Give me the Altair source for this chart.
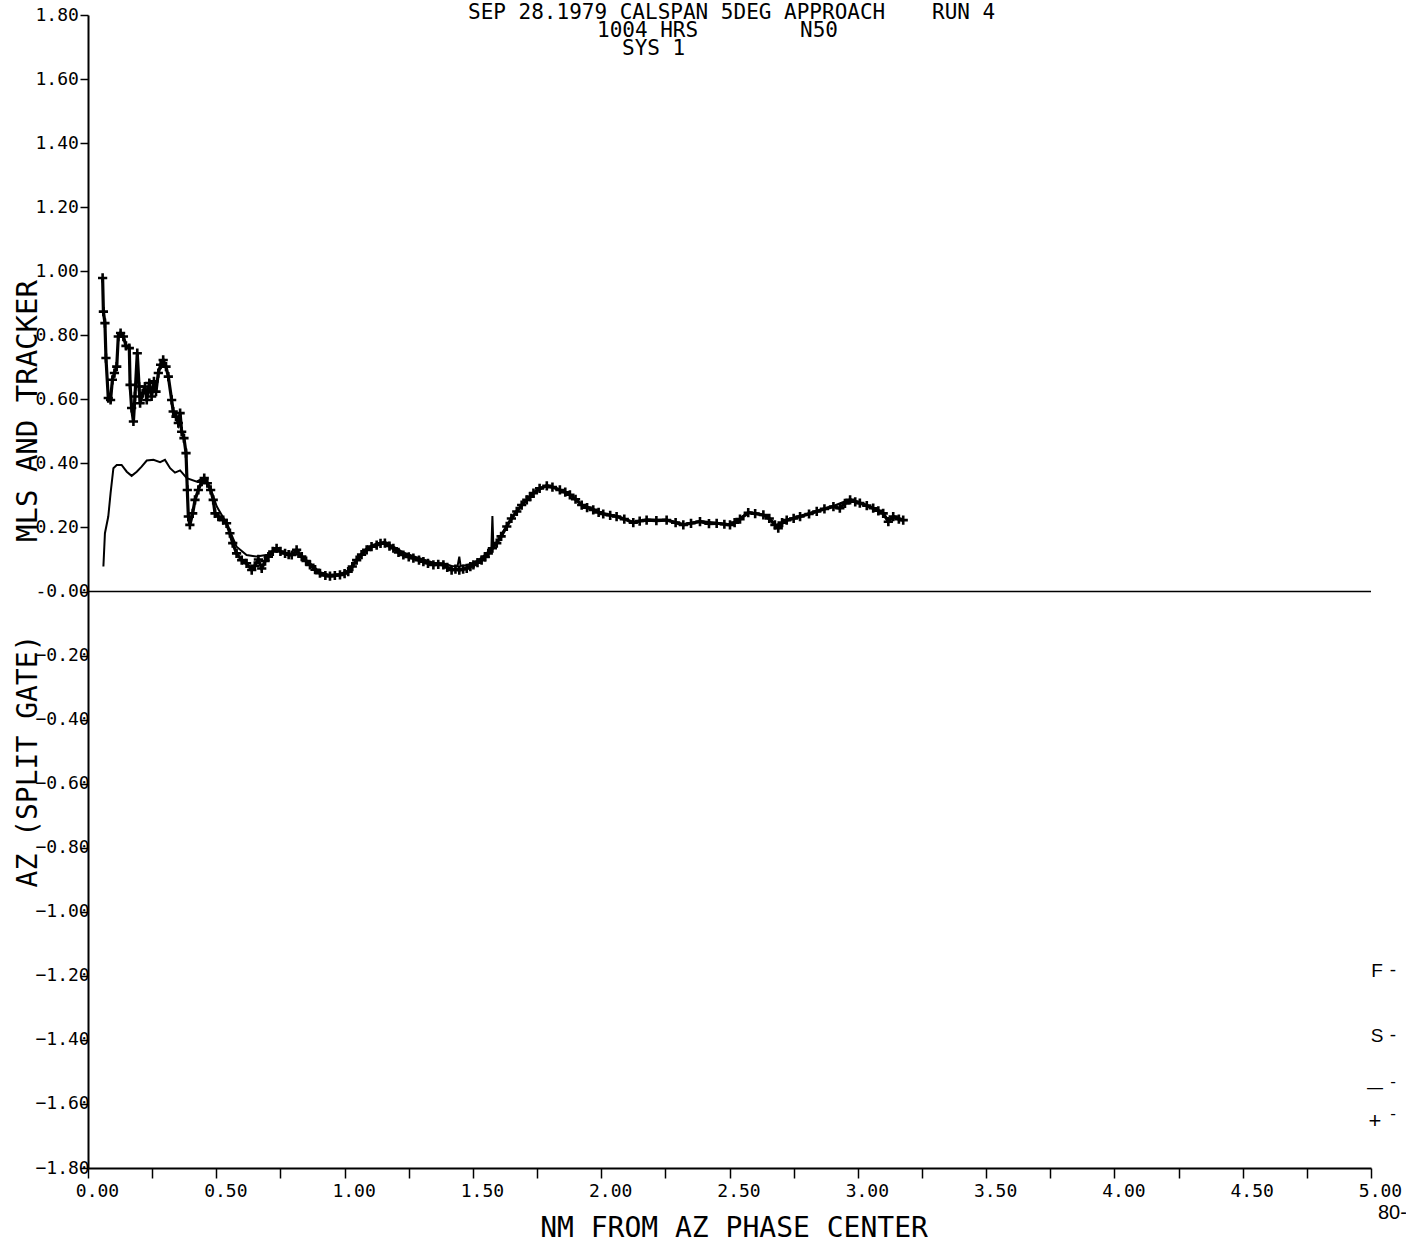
import altair as alt
import pandas as pd

# ---- data ----
MLS_X = [0.057, 0.060, 0.066, 0.070, 0.079, 0.088, 0.095, 0.103, 0.112, 0.118, 0.127, 0.138,
         0.148, 0.161, 0.164, 0.170, 0.177, 0.183, 0.192, 0.199, 0.203, 0.213, 0.222, 0.229,
         0.239, 0.248, 0.257, 0.265, 0.274, 0.283, 0.293, 0.304, 0.313, 0.326, 0.332, 0.343,
         0.352, 0.359, 0.365, 0.374, 0.382, 0.387, 0.391, 0.397, 0.408, 0.417, 0.430, 0.443,
         0.453, 0.465, 0.478, 0.488, 0.495, 0.508, 0.527, 0.540, 0.553, 0.564, 0.579, 0.599,
         0.618, 0.638, 0.650, 0.664, 0.677, 0.690, 0.703, 0.720, 0.735, 0.750, 0.768, 0.782,
         0.794, 0.813, 0.833, 0.850, 0.865, 0.885, 0.904, 0.925, 0.943, 0.962, 0.982, 1.000,
         1.014, 1.030, 1.047, 1.066, 1.086, 1.105, 1.125, 1.140, 1.157, 1.175, 1.190, 1.210,
         1.229, 1.250, 1.268, 1.290, 1.307, 1.325, 1.346, 1.365, 1.385, 1.400, 1.417, 1.432,
         1.447, 1.462, 1.476, 1.490, 1.502, 1.518, 1.534, 1.548, 1.560, 1.576, 1.593, 1.610,
         1.632, 1.650, 1.671, 1.690, 1.710, 1.723, 1.736, 1.760, 1.788, 1.810, 1.839, 1.860,
         1.878, 1.900, 1.924, 1.945, 1.969, 1.990, 2.008, 2.035, 2.060, 2.090, 2.125, 2.150,
         2.177, 2.215, 2.255, 2.290, 2.320, 2.350, 2.385, 2.420, 2.450, 2.480, 2.502, 2.520,
         2.541, 2.573, 2.600, 2.632, 2.655, 2.677, 2.690, 2.705, 2.723, 2.750, 2.775, 2.810,
         2.840, 2.870, 2.905, 2.930, 2.950, 2.970, 2.990, 3.008, 3.035, 3.060, 3.080, 3.099,
         3.119, 3.138, 3.160, 3.177]
MLS_Y = [0.979, 0.874, 0.838, 0.729, 0.604, 0.598, 0.661, 0.682, 0.702, 0.796, 0.807, 0.796,
         0.767, 0.760, 0.645, 0.573, 0.531, 0.609, 0.744, 0.640, 0.588, 0.619, 0.640, 0.598,
         0.651, 0.609, 0.656, 0.624, 0.682, 0.708, 0.723, 0.702, 0.671, 0.598, 0.562, 0.546,
         0.526, 0.557, 0.499, 0.479, 0.432, 0.317, 0.234, 0.208, 0.244, 0.286, 0.317, 0.343,
         0.354, 0.338, 0.317, 0.286, 0.244, 0.234, 0.223, 0.213, 0.182, 0.151, 0.119, 0.098,
         0.088, 0.067, 0.080, 0.100, 0.072, 0.095, 0.109, 0.125, 0.135, 0.125, 0.119, 0.115,
         0.114, 0.130, 0.109, 0.095, 0.083, 0.068, 0.057, 0.050, 0.048, 0.050, 0.052, 0.056,
         0.062, 0.078, 0.098, 0.115, 0.130, 0.140, 0.145, 0.150, 0.151, 0.142, 0.135, 0.122,
         0.114, 0.108, 0.104, 0.098, 0.093, 0.088, 0.083, 0.085, 0.083, 0.075, 0.067, 0.070,
         0.067, 0.070, 0.072, 0.078, 0.083, 0.090, 0.098, 0.108, 0.119, 0.135, 0.151, 0.172,
         0.203, 0.228, 0.250, 0.270, 0.286, 0.296, 0.307, 0.322, 0.330, 0.326, 0.317, 0.310,
         0.302, 0.288, 0.270, 0.262, 0.255, 0.247, 0.242, 0.238, 0.234, 0.226, 0.215, 0.220,
         0.223, 0.221, 0.223, 0.215, 0.208, 0.213, 0.218, 0.212, 0.213, 0.210, 0.208, 0.215,
         0.226, 0.246, 0.243, 0.239, 0.228, 0.208, 0.198, 0.215, 0.223, 0.228, 0.234, 0.242,
         0.250, 0.258, 0.265, 0.260, 0.275, 0.286, 0.280, 0.276, 0.268, 0.260, 0.252, 0.244,
         0.218, 0.234, 0.226, 0.223]

TRK_X = [0.060, 0.066, 0.079, 0.088, 0.099, 0.112, 0.131, 0.151, 0.170, 0.190, 0.209, 0.229,
         0.255, 0.281, 0.300, 0.320, 0.339, 0.359, 0.385, 0.424, 0.449, 0.475, 0.502, 0.540,
         0.579, 0.618, 0.657, 0.700, 0.735, 0.770, 0.800, 0.830, 0.865, 0.904, 0.943, 0.982,
         1.014, 1.047, 1.086, 1.125, 1.157, 1.190, 1.229, 1.268, 1.307, 1.346, 1.385, 1.417,
         1.440, 1.447, 1.452, 1.476, 1.502, 1.534, 1.560, 1.572, 1.576, 1.580, 1.593, 1.632,
         1.671, 1.723, 1.788, 1.839, 1.878, 1.924, 1.969, 2.008, 2.060, 2.125, 2.177, 2.255,
         2.320, 2.385, 2.450, 2.502, 2.541, 2.573, 2.632, 2.677, 2.690, 2.723, 2.775, 2.840,
         2.905, 2.970, 3.008, 3.060, 3.099, 3.119, 3.138, 3.177]
TRK_Y = [0.078, 0.182, 0.234, 0.307, 0.385, 0.395, 0.395, 0.374, 0.361, 0.374, 0.390, 0.409,
         0.411, 0.404, 0.411, 0.385, 0.371, 0.378, 0.354, 0.343, 0.354, 0.327, 0.265, 0.213,
         0.140, 0.114, 0.109, 0.115, 0.130, 0.120, 0.118, 0.112, 0.088, 0.060, 0.052, 0.055,
         0.065, 0.100, 0.135, 0.150, 0.155, 0.140, 0.122, 0.110, 0.100, 0.090, 0.088, 0.080,
         0.078, 0.109, 0.080, 0.082, 0.090, 0.105, 0.125, 0.135, 0.236, 0.140, 0.155, 0.205,
         0.252, 0.300, 0.332, 0.318, 0.304, 0.272, 0.257, 0.244, 0.236, 0.217, 0.225, 0.224,
         0.210, 0.220, 0.215, 0.210, 0.228, 0.248, 0.240, 0.210, 0.200, 0.224, 0.236, 0.252,
         0.267, 0.288, 0.278, 0.262, 0.246, 0.220, 0.236, 0.224]

X_TICKS = [0.0, 0.25, 0.5, 0.75, 1.0, 1.25, 1.5, 1.75, 2.0, 2.25, 2.5, 2.75, 3.0, 3.25,
           3.5, 3.75, 4.0, 4.25, 4.5, 4.75, 5.0]
Y_TICKS = [-1.8, -1.6, -1.4, -1.2, -1.0, -0.8, -0.6, -0.4, -0.2, 0.0, 0.2, 0.4, 0.6, 0.8,
           1.0, 1.2, 1.4, 1.6, 1.8]
ZERO_LINE = [0.0]

TITLE_1A = "SEP 28.1979 CALSPAN 5DEG APPROACH"
TITLE_1B = "RUN 4"
TITLE_2A = "1004 HRS"
TITLE_2B = "N50"
TITLE_3 = "SYS 1"
X_TITLE = "NM FROM AZ PHASE CENTER"
Y_TITLE_UP = "MLS AND TRACKER"
Y_TITLE_DOWN = "AZ (SPLIT GATE)"
SIDE_MARKS = ["F", "S", "—", "+"]
CORNER_TEXT = "80-"

W, H = 1283, 1153
MONO = "DejaVu Sans Mono"
SANS = "Liberation Sans"

mls = pd.DataFrame({"x": MLS_X, "y": MLS_Y})
trk = pd.DataFrame({"x": TRK_X, "y": TRK_Y})

xscale = alt.Scale(domain=[0, 5], nice=False, zero=False)
yscale = alt.Scale(domain=[-1.8, 1.8], nice=False, zero=False)

xaxis = alt.Axis(
    values=X_TICKS, title=None, grid=False,
    labelExpr="abs(datum.value*2 - round(datum.value*2)) < 0.001 ? format(datum.value, '.2f') : ''",
    tickSize=10, tickWidth=1.5, tickColor="black",
    domainColor="black", domainWidth=2,
    labelFont=MONO, labelFontSize=18, labelColor="black",
    labelPadding=4, labelOffset=9, labelOverlap=False, labelFlush=False,
)
yaxis = alt.Axis(
    values=Y_TICKS, title=None, grid=False,
    labelExpr="abs(datum.value) < 0.001 ? '-0.00' : format(datum.value, '.2f')",
    tickSize=8, tickWidth=1.5, tickColor="black",
    domainColor="black", domainWidth=2,
    labelFont=MONO, labelFontSize=18, labelColor="black",
    labelAlign="left", labelBaseline="middle", labelPadding=45,
    labelOverlap=False, labelFlush=False,
)

base_mls = alt.Chart(mls).encode(
    x=alt.X("x:Q", scale=xscale, axis=xaxis),
    y=alt.Y("y:Q", scale=yscale, axis=yaxis),
)
mls_line = base_mls.mark_line(color="black", strokeWidth=3.2, interpolate="linear")
mls_pts = base_mls.mark_point(
    shape="M-1,0L1,0M0,-1L0,1", filled=False, size=85,
    color="black", strokeWidth=2.6, opacity=1,
)
trk_line = alt.Chart(trk).mark_line(color="black", strokeWidth=2).encode(
    x=alt.X("x:Q", scale=xscale), y=alt.Y("y:Q", scale=yscale)
)
zero = alt.Chart(pd.DataFrame({"y": ZERO_LINE})).mark_rule(
    color="black", strokeWidth=1.5
).encode(y=alt.Y("y:Q", scale=yscale))


def label(txt, px, py, size, font=MONO, align="left", baseline="alphabetic", angle=0):
    kw = dict(fontSize=size, font=font, align=align, baseline=baseline, color="black")
    if angle:
        kw["angle"] = angle
    return alt.Chart(pd.DataFrame({"t": [txt]})).mark_text(**kw).encode(
        x=alt.value(px), y=alt.value(py), text="t:N"
    )


texts = [
    label(TITLE_1A, 380, 3.5, 21),
    label(TITLE_1B, 844, 3.5, 21),
    label(TITLE_2A, 509, 21.5, 21),
    label(TITLE_2B, 712, 21.5, 21),
    label(TITLE_3, 534, 40, 21),
    label(X_TITLE, 646, 1222, 28, align="center"),
    label(Y_TITLE_UP, -51, 396, 29, align="center", angle=270),
    label(Y_TITLE_DOWN, -51, 746, 28, align="center", angle=270),
    label(SIDE_MARKS[0], 1289, 962, 19, font=SANS, align="center"),
    label("-", 1305, 961, 19, font=SANS, align="center"),
    label(SIDE_MARKS[1], 1289, 1027, 19, font=SANS, align="center"),
    label("-", 1305, 1026, 19, font=SANS, align="center"),
    label(SIDE_MARKS[2], 1287, 1078, 16, font=SANS, align="center"),
    label("-", 1305, 1072, 17, font=SANS, align="center"),
    label(SIDE_MARKS[3], 1287, 1113, 22, font=SANS, align="center"),
    label("-", 1305, 1104, 17, font=SANS, align="center"),
    label(CORNER_TEXT, 1290, 1204, 20, font=SANS),
]

chart = alt.layer(zero, trk_line, mls_line, mls_pts, *texts).properties(
    width=W, height=H,
    autosize=alt.AutoSizeParams(type="none"),
    padding={"left": 88, "top": 15, "right": 35, "bottom": 78},
    background="white",
).configure_view(stroke=None)

chart.save("out.html", embed_options={"renderer": "svg", "actions": False})
